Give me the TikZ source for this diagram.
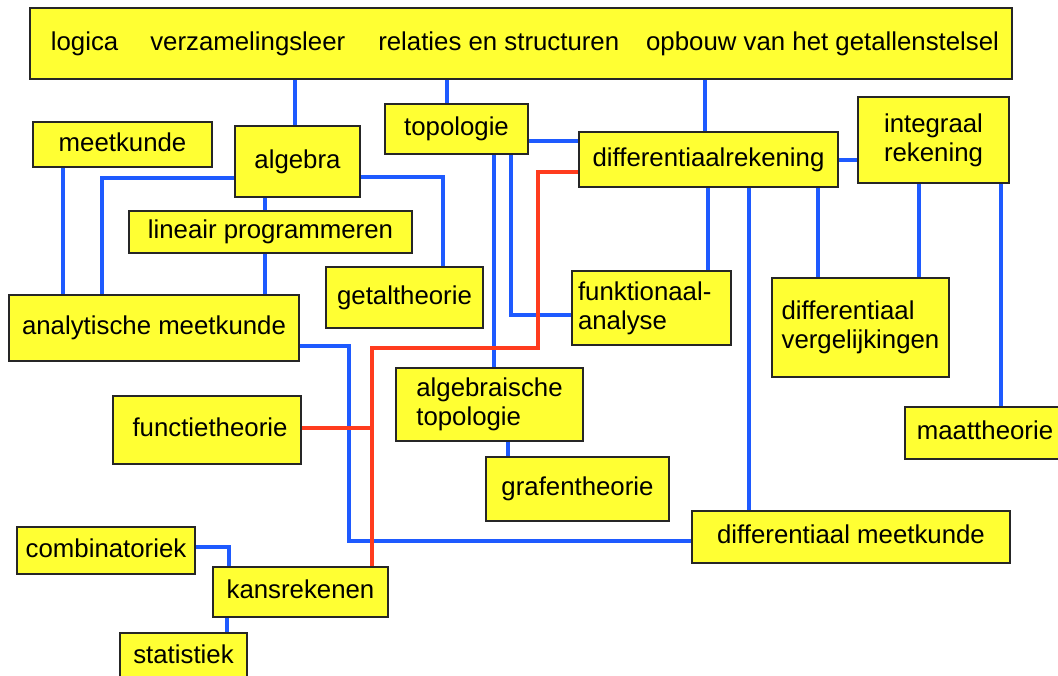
\documentclass[tikz,border=0pt]{standalone}
\usepackage{fontspec}
\setmainfont{Liberation Sans}
\definecolor{boxyellow}{RGB}{255,255,51}
\definecolor{linkblue}{RGB}{30,90,255}
\definecolor{linkred}{RGB}{255,60,30}
\pgfdeclarelayer{bg}
\pgfsetlayers{bg,main}
\newcommand{\boxfont}{\fontsize{25.8}{29}\selectfont}
\begin{document}
\begin{tikzpicture}[x=1pt,y=-1pt,
  box/.style={draw=black!85, line width=1.7pt, fill=boxyellow, inner sep=0pt, font=\boxfont},
  one/.style={text height=18.5pt, text depth=5.4pt},
  bluelink/.style={draw=linkblue, line width=3.8pt},
  redlink/.style={draw=linkred, line width=3.8pt}]
\useasboundingbox (0,0) rectangle (1058,675);

% boxes
\node[box,one,minimum width=982pt,minimum height=71pt] (base) at (521,43.5)
  {\hspace*{8pt}logica\hspace{32pt}verzamelingsleer\hspace{33pt}relaties en structuren\hspace{27pt}opbouw van het getallenstelsel};
\node[box,one,minimum width=179pt,minimum height=45pt] (meetk) at (122.5,144.5) {meetkunde};
\node[box,one,minimum width=125pt,minimum height=71pt] (algebra) at (297.5,161.5) {algebra};
\node[box,one,minimum width=283pt,minimum height=42pt] (lineair) at (270.5,232) {lineair programmeren};
\node[box,one,minimum width=157pt,minimum height=61pt] (getal) at (404.5,297.5) {getaltheorie};
\node[box,one,minimum width=290pt,minimum height=66pt] (analyt) at (154,328) {analytische meetkunde};
\node[box,one,minimum width=143pt,minimum height=50pt] (topo) at (456.5,129) {topologie};
\node[box,one,minimum width=259pt,minimum height=55pt] (diffrek) at (708.5,159.5) {differentiaalrekening};
\node[box,align=left,text width=147pt,inner xsep=6pt,minimum height=74pt] (funk) at (651.5,308) {funktionaal-\\analyse};
\node[box,align=left,minimum width=151pt,minimum height=86pt] (integ) at (933.5,140) {integraal\\rekening};
\node[box,align=left,minimum width=177pt,minimum height=99pt] (diffverg) at (860.5,327.5) {differentiaal\\vergelijkingen};
\node[box,one,minimum width=160pt,minimum height=52pt] (maat) at (985,433) {maattheorie};
\node[box,align=left,minimum width=187pt,minimum height=73pt] (algtop) at (489.5,404.5) {algebraische\\topologie};
\node[box,one,minimum width=183pt,minimum height=64pt] (grafen) at (577.5,489) {grafentheorie};
\node[box,one,minimum width=188pt,minimum height=68pt] (functie) at (207,430) {\hspace*{6pt}functietheorie};
\node[box,one,minimum width=318pt,minimum height=52pt] (diffmeet) at (851,537) {differentiaal meetkunde};
\node[box,one,minimum width=178pt,minimum height=47pt] (combi) at (106,550.5) {combinatoriek};
\node[box,one,minimum width=175pt,minimum height=50pt] (kans) at (300.5,592) {kansrekenen};
\node[box,one,minimum width=127pt,minimum height=48pt] (stat) at (183.5,657) {statistiek};

\coordinate (redjoin) at (372,428);

\begin{pgfonlayer}{bg}
% blue connectors
\draw[bluelink] (base.south -| 295,0) -- (algebra.north -| 295,0);
\draw[bluelink] (base.south -| 447,0) -- (topo.north -| 447,0);
\draw[bluelink] (base.south -| 705,0) -- (diffrek.north -| 705,0);
\draw[bluelink] (meetk.south -| 63,0) -- (analyt.north -| 63,0);
\draw[bluelink] (algebra.west |- 0,178) -| (analyt.north -| 102,0);
\draw[bluelink] (algebra.south -| 265,0) -- (lineair.north -| 265,0);
\draw[bluelink] (lineair.south -| 265,0) -- (analyt.north -| 265,0);
\draw[bluelink] (algebra.east |- 0,177) -| (getal.north -| 443,0);
\draw[bluelink] (analyt.east |- 0,346) -| (349,541) -- (diffmeet.west |- 0,541);
\draw[bluelink] (topo.east |- 0,141) -- (diffrek.west |- 0,141);
\draw[bluelink] (topo.south -| 494,0) -- (algtop.north -| 494,0);
\draw[bluelink] (topo.south -| 511,0) |- (funk.west |- 0,315);
\draw[bluelink] (diffrek.south -| 708,0) -- (funk.north -| 708,0);
\draw[bluelink] (diffrek.south -| 749,0) -- (diffmeet.north -| 749,0);
\draw[bluelink] (diffrek.east |- 0,160) -- (integ.west |- 0,160);
\draw[bluelink] (diffrek.south -| 818,0) -- (diffverg.north -| 818,0);
\draw[bluelink] (integ.south -| 919,0) -- (diffverg.north -| 919,0);
\draw[bluelink] (integ.south -| 1001,0) -- (maat.north -| 1001,0);
\draw[bluelink] (algtop.south -| 508,0) -- (grafen.north -| 508,0);
\draw[bluelink] (combi.east |- 0,547) -| (kans.north -| 229,0);
\draw[bluelink] (kans.south -| 227,0) -- (stat.north -| 227,0);
% red connectors
\draw[redlink] (diffrek.west |- 0,172) -| (538,348) -| (kans.north -| 372,0);
\draw[redlink] (functie.east |- 0,428) -- (redjoin);
\end{pgfonlayer}
\end{tikzpicture}
\end{document}
